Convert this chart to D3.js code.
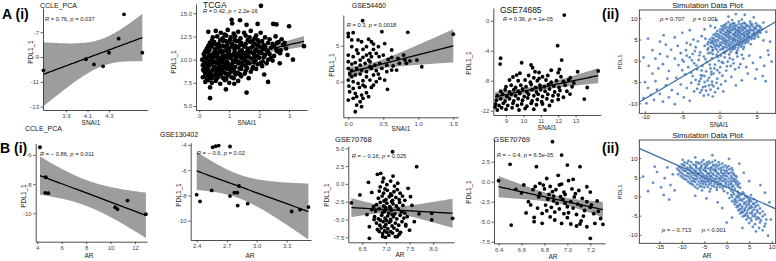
<!DOCTYPE html>
<html>
<head>
<meta charset="utf-8">
<script src="https://cdn.jsdelivr.net/npm/d3@7"></script>
<style>
  body { margin: 0; background: #fff; }
  svg text { font-family: "Liberation Sans", Arial, sans-serif; }
</style>
</head>
<body>
<svg id="fig" width="776" height="261"></svg>
<script>
// ---- data ----
// row A: PDL1_1 vs SNAI1
const ccleSnaiPts = [[3.69,-10.07],[4.085,-9.18],[4.16,-9.6],[4.245,-9.75],[4.30,-8.65],[4.39,-7.52],[4.44,-5.56],[4.61,-8.65]];
const ccleSnaiXTicks = [3.9, 4.1, 4.3];
const ccleSnaiYTicks = [-13, -11, -9, -7];

const tcgaPts = [
  [2.06,15.8],[1.08,14.3],[1.1,13.9],[1.36,14.25],[1.58,13.75],[1.95,13.85],[2.47,13.85],[2.58,13.8],[3.0,13.6],[0.3,13.0],
  [3.5,11.45],[3.13,10.0],[2.69,9.6],[2.17,8.4],[1.17,7.4],[0.36,7.0],[0.89,6.8],[1.58,6.45],[0.36,5.85],[0.13,8.9],
  [2.85,11.8],[2.6,11.8],[2.3,7.6],
  [0.55,13.1],[0.72,12.9],[0.95,13.2],[1.15,12.8],[1.3,13.0],[1.5,12.9],[1.72,13.1],[0.85,12.7],[2.05,12.9],[1.9,12.6],
  [0.45,12.4],[0.6,12.5],[0.78,12.3],[0.9,12.6],[1.05,12.4],[1.2,12.5],[1.38,12.3],[1.55,12.6],[1.68,12.4],[1.85,12.3],[2.2,12.4],[2.35,12.2],[2.55,12.5],[2.75,12.2],
  [0.35,11.8],[0.5,11.9],[0.65,11.7],[0.8,12.0],[0.95,11.8],[1.1,11.7],[1.25,12.0],[1.4,11.8],[1.55,11.7],[1.7,11.9],[1.85,11.7],[2.0,11.9],[2.15,11.6],[2.3,11.8],[2.45,11.7],[2.65,11.9],[2.8,11.6],[0.58,11.6],[1.02,12.1],
  [0.25,11.2],[0.4,11.4],[0.52,11.1],[0.62,11.3],[0.72,11.0],[0.85,11.4],[0.97,11.2],[1.08,11.4],[1.18,11.1],[1.3,11.3],[1.42,11.0],[1.52,11.4],[1.63,11.2],[1.75,11.3],[1.9,11.1],[2.02,11.4],[2.12,11.2],[2.25,11.0],[2.4,11.3],[2.58,11.1],[2.72,11.0],[2.9,11.2],
  [0.15,10.6],[0.28,10.8],[0.38,10.5],[0.48,10.7],[0.58,10.5],[0.68,10.8],[0.78,10.6],[0.88,10.4],[0.98,10.7],[1.08,10.5],[1.18,10.8],[1.28,10.6],[1.38,10.4],[1.48,10.7],[1.58,10.5],[1.7,10.8],[1.82,10.6],[1.95,10.4],[2.08,10.7],[2.2,10.5],[2.35,10.6],[2.5,10.4],[2.7,10.7],[2.95,10.5],
  [0.1,10.0],[0.22,10.2],[0.32,9.9],[0.42,10.1],[0.52,9.8],[0.62,10.2],[0.72,9.9],[0.82,10.1],[0.92,9.8],[1.02,10.2],[1.12,9.9],[1.22,10.1],[1.32,9.8],[1.42,10.2],[1.52,10.0],[1.62,9.8],[1.75,10.1],[1.88,9.9],[2.0,10.2],[2.12,9.8],[2.3,10.0],[2.45,9.9],
  [0.12,9.4],[0.22,9.6],[0.3,9.3],[0.4,9.5],[0.5,9.2],[0.58,9.6],[0.68,9.4],[0.78,9.2],[0.88,9.6],[0.98,9.3],[1.08,9.5],[1.2,9.2],[1.3,9.6],[1.42,9.4],[1.55,9.3],[1.68,9.6],[1.8,9.2],[1.95,9.5],[2.1,9.3],[2.25,9.6],
  [0.15,8.8],[0.25,9.0],[0.35,8.7],[0.45,8.9],[0.55,8.6],[0.65,9.0],[0.75,8.8],[0.85,8.6],[0.95,9.0],[1.05,8.7],[1.15,8.9],[1.28,8.6],[1.4,9.0],[1.55,8.8],[1.72,8.7],[1.9,9.0],
  [0.12,8.1],[0.22,8.4],[0.32,8.2],[0.42,8.0],[0.52,8.3],[0.62,8.1],[0.72,8.4],[0.82,8.0],[0.95,8.3],[1.08,8.1],[1.22,8.4],[1.4,8.2],[1.65,8.0],
  [0.2,7.6],[0.3,7.8],[0.42,7.5],[0.55,7.7],[0.7,7.4],[0.85,7.8],[1.0,7.5],[1.3,7.7],
  [0.6,10.45],[0.9,10.95],[1.25,10.35],[0.45,9.75],[0.85,9.55],[1.15,10.6],[0.7,11.5],[1.35,11.55],[0.3,10.35],[1.65,10.3],[1.0,9.05],[0.55,8.95],
  [0.42,12.05],[0.7,12.1],[0.88,12.0],[1.18,12.1],[1.32,12.0],[1.62,12.1],[1.78,12.0],[1.95,12.1],[2.1,12.0],
  [0.3,11.5],[0.45,11.6],[0.78,11.5],[0.92,11.55],[1.2,11.5],[1.48,11.5],[1.8,11.5],[1.95,11.55],[2.2,11.45],[2.5,11.5],
  [0.2,10.9],[0.34,11.0],[0.55,10.9],[0.78,10.9],[1.0,10.95],[1.35,10.85],[1.6,10.9],[1.85,10.9],[2.0,10.85],[2.3,10.8],[2.6,10.9],
  [0.18,10.3],[0.38,10.3],[0.5,10.3],[0.75,10.25],[0.95,10.3],[1.05,10.35],[1.38,10.25],[1.55,10.3],[1.85,10.3],[2.15,10.25],[2.4,10.2],
  [0.18,9.7],[0.28,9.8],[0.35,9.65],[0.55,9.7],[0.65,9.8],[0.78,9.7],[0.95,9.65],[1.15,9.7],[1.25,9.8],[1.45,9.7],[1.6,9.65],[1.82,9.7],[2.05,9.65],
  [0.18,9.1],[0.3,9.15],[0.48,9.05],[0.62,9.1],[0.82,9.05],[0.9,9.15],[1.12,9.1],[1.35,9.05],[1.6,9.1],[1.78,9.05],
  [0.2,8.5],[0.28,8.6],[0.4,8.45],[0.6,8.5],[0.68,8.6],[0.9,8.45],[1.0,8.5],[1.18,8.55],[1.35,8.45],[1.52,8.5],
  [0.25,7.95],[0.38,8.0],[0.58,7.95],[0.78,8.05],[0.9,7.9],[1.15,8.0]
];
const tcgaXTicks = [0, 1, 2, 3];
const tcgaYTicks = [5, 7.5, 10, 12.5, 15];

const gse54460Pts = [
  [0.205,8.47],[0.07,6.8],[0,6.7],[0,6.25],[0.05,5.8],[0.48,6.94],[0.85,6.85],[1.5,6.6],
  [0.14,5.8],[0.19,5.55],[0.29,5.9],[0.33,5.55],[0.36,5.23],[0.52,5.3],[0.62,4.4],
  [0.12,4.4],[0.21,4.5],[0.31,3.94],[0.36,4.5],[0,3.7],[0.07,3.47],[0.14,3.94],
  [0.21,3.38],[0.26,3.7],[0.33,3.47],[0.4,3.94],[0.44,3.47],[0.5,3.7],[0.57,3.1],[0.62,3.38],
  [0.71,3.24],[0.81,3.0],[0.88,2.9],[0.79,3.7],
  [0,2.78],[0.05,2.45],[0.1,2.64],[0.17,2.3],[0.24,2.55],[0.31,2.78],[0.38,2.3],[0.45,2.55],
  [0.55,2.3],[0.64,2.18],[0.73,2.55],[1.05,2.08],
  [0,1.85],[0.05,1.53],[0.12,1.85],[0.19,1.62],[0.26,1.39],[0.33,1.85],[0.4,1.53],[0.48,1.85],
  [0.55,1.39],[0.62,1.62],
  [0.02,1.06],[0.1,0.93],[0.17,1.06],[0.26,0.69],[0.36,0.93],[0.45,0.46],
  [0,0.23],[0.07,0],[0.14,-0.23],[0.21,0.14],[0.31,0.23],[0.4,0],[0.52,0.23],
  [0.01,-0.6],[0.07,-0.93],[0.16,-0.79],[0.24,-0.69],[0.33,-0.79],
  [0.02,-1.39],[0.1,-1.62],[0.19,-1.85],[0.26,-1.53],[0.56,-1.06],
  [0,-2.55],[0.07,-2.31],[0.17,-2.78],[0.21,-2.31],[0.12,-3.24],[0.19,-3.47],[0.1,-4.17],
  [0.05,4.86],[0.26,4.86],[0.43,4.86],[0.17,3.0],[0.31,2.08],[0.05,0.69],[0.21,-0.46],[0.36,-0.46],
  [0.12,-2.08],[0.29,-2.08],[0.69,1.62],[0.83,2.55],[0.43,1.06],[0.29,3.0],[0.98,3.0]
];
const gse54460XTicks = [0, 0.5, 1.0, 1.5];
const gse54460YTicks = [0, 5];

const gse74685Pts = [
  [9.7,-8.0],[10.1,-7.9],[10.4,-8.2],[10.8,-8.0],[11.3,-7.9],[11.6,-8.2],[11.9,-8.0],[12.3,-8.1],[12.6,-7.9],
  [9.0,-8.8],[9.3,-8.6],[9.55,-8.9],[9.85,-8.6],[10.15,-8.8],[10.45,-8.5],[10.7,-8.9],[10.95,-8.6],[11.2,-8.8],[11.45,-8.5],[11.75,-8.7],[12.05,-8.9],[12.4,-8.6],[12.8,-8.8],
  [8.7,-9.4],[8.95,-9.2],[9.2,-9.5],[9.45,-9.2],[9.7,-9.4],[9.95,-9.1],[10.2,-9.5],[10.5,-9.2],[10.75,-9.5],[11.0,-9.2],[11.25,-9.4],[11.5,-9.1],[11.8,-9.5],[12.1,-9.3],[12.5,-9.4],
  [8.5,-10.0],[8.8,-9.8],[9.05,-10.1],[9.3,-9.8],[9.55,-10.0],[9.8,-9.7],[10.05,-10.1],[10.3,-9.8],[10.6,-10.0],[10.85,-9.8],[11.1,-10.1],[11.4,-9.8],[11.7,-10.0],[12.0,-9.9],[12.3,-10.2],
  [8.45,-10.6],[8.7,-10.4],[8.95,-10.7],[9.2,-10.4],[9.45,-10.7],[9.7,-10.4],[9.95,-10.6],[10.25,-10.3],[10.5,-10.7],[10.8,-10.5],[11.05,-10.8],[11.35,-10.4],[11.65,-10.7],[12.0,-10.5],
  [8.4,-11.1],[8.6,-11.3],[8.85,-11.0],[9.1,-11.3],[9.4,-11.0],[9.65,-11.3],[9.9,-11.1],[10.2,-11.4],[10.45,-11.0],[10.75,-11.2],[11.1,-11.1],[11.5,-11.3],
  [8.37,-11.5],[8.5,-11.9],[8.75,-11.6],[9.0,-11.8],[9.35,-11.6],[9.75,-11.9],[10.1,-11.7],[10.6,-11.8],[11.24,-11.9],
  [9.4,-7.5],[10.3,-7.3],[10.9,-6.9],[11.4,-7.3],[12.7,-7.6],[9.2,-7.9],[10.6,-7.6],[11.6,-6.6],[12.9,-8.3],
  [12.35,0.76],[11.97,-3.33],[12.2,-5.24],[8.69,-5.0],[8.66,-5.78],[9.9,-5.6],[10.44,-5.9],[10.53,-6.27],[9.61,-7.24],[9.8,-7.0],
  [10.67,-6.8],[10.9,-7.7],[11.1,-7.47],[12.0,-6.93],[12.07,-6.49],[12.16,-7.47],[13.12,-6.8],[14.3,-6.7],[13.67,-8.9],[13.5,-10.44],[12.68,-9.78]
];
const gse74685XTicks = [9, 10, 11, 12, 13];
const gse74685YTicks = [-12, -8, -4, 0];

// row B: PDL1_1 vs AR
const ccleArPts = [[4.22,-5.47],[4.69,-7.53],[4.65,-8.6],[4.9,-8.62],[10.37,-9.58],[10.56,-9.72],[11.38,-9.13],[12.89,-10.06]];
const ccleArXTicks = [4, 6, 8, 10, 12];
const ccleArYTicks = [-10, -8, -6];

const gse130402Pts = [[2.4,-7.94],[2.433,-8.47],[2.55,-7.6],[2.733,-8.05],[2.776,-7.78],[2.806,-7.78],[2.823,-7.25],[2.81,-8.8],
  [2.91,-8.65],[3.35,-9.27],[3.433,-9.13],[3.517,-8.92],[2.56,-4.18],[2.59,-4.1],[2.62,-4.05],[2.733,-4.12]];
const gse130402XTicks = [2.4, 2.7, 3.0, 3.3];
const gse130402YTicks = [-10, -8, -6, -4];

const gse70768Pts = [
  [6.93,0.3],[7.02,-0.1],[7.1,0.4],[7.18,-0.3],[6.88,-0.4],[7.25,0.1],
  [6.86,-1.0],[6.95,-1.3],[7.03,-0.9],[7.1,-1.4],[7.17,-1.1],[7.24,-0.8],[7.3,-1.3],[6.98,-0.7],
  [6.84,-2.0],[6.92,-1.7],[7.0,-2.2],[7.07,-1.8],[7.14,-2.3],[7.21,-1.9],[7.28,-2.2],[7.35,-1.7],[6.96,-2.4],[7.12,-1.6],
  [6.8,-2.9],[6.88,-2.6],[6.95,-3.1],[7.02,-2.7],[7.08,-3.2],[7.15,-2.8],[7.22,-3.1],[7.29,-2.6],[7.36,-3.0],[6.99,-3.3],[7.12,-2.5],[6.74,-3.2],
  [6.78,-3.8],[6.86,-3.5],[6.93,-4.0],[7.0,-3.6],[7.06,-4.1],[7.12,-3.7],[7.19,-4.2],[7.26,-3.5],[7.33,-3.9],[7.4,-4.1],[6.97,-3.9],[7.09,-3.4],[6.7,-3.6],
  [6.76,-4.6],[6.84,-4.9],[6.91,-4.4],[6.98,-4.8],[7.04,-4.5],[7.1,-5.0],[7.16,-4.6],[7.23,-4.9],[7.3,-4.4],[7.38,-4.8],[7.01,-5.1],[7.13,-4.3],[6.88,-5.1],[7.45,-4.6],
  [6.8,-5.5],[6.87,-5.8],[6.94,-5.3],[7.0,-5.7],[7.07,-5.4],[7.13,-5.9],[7.2,-5.5],[7.27,-5.8],[7.34,-5.3],[6.97,-6.0],[7.1,-5.2],[7.42,-5.7],
  [6.82,-6.4],[6.9,-6.2],[6.97,-6.6],[7.04,-6.3],[7.1,-6.7],[7.17,-6.2],[7.24,-6.5],[7.31,-6.8],[6.86,-6.7],[7.02,-6.8],
  [6.93,-7.0],[7.06,-7.2],[7.14,-6.9],[7.2,-7.4],[7.28,-7.1],[6.99,-7.5],
  [6.7,-1.2],[6.75,-5.0],[7.55,-3.0],[7.6,-5.3],[7.5,-6.5],[6.65,-6.0],[7.4,-2.3],[6.6,-4.3],[7.7,-4.2],[6.95,0.8],[7.15,1.1],
  [7.14,4.53],[7.65,2.42],[6.82,1.35],[6.89,1.49],[6.63,0.22],[6.45,-1.55],[6.27,-2.65],[6.65,-7.64],[8.41,-4.83],[7.97,-4.13],
  [7.97,-5.07],[7.47,-0.62],[7.52,-1.79],[7.42,-5.9],[6.93,-7.4],[7.24,-7.4]
];
const gse70768XTicks = [6.5, 7.0, 7.5, 8.0];
const gse70768YTicks = [-7.5, -5, -2.5, 0, 2.5, 5];

const gse70769Pts = [
  [6.87,5.0],[6.95,3.33],[6.5,2.17],[6.73,1.88],[7.0,2.08],[7.11,1.88],[6.4,0.13],[6.55,-0.96],[6.76,-0.2],[6.79,-0.42],
  [7.01,0.13],[7.17,-0.63],[6.76,-1.46],[6.84,-1.58],[6.87,-1.25],[6.66,-2.5],[6.94,-1.88],[6.81,-2.92],[6.91,-2.71],[7.0,-3.13],
  [7.13,-2.08],[7.17,-2.5],[6.78,-3.96],[6.82,-3.63],[7.01,-3.88],[6.71,-4.46],[6.71,-5.0],[6.89,-4.79],[6.95,-5.21],[7.03,-5.29],
  [7.08,-5.54],[7.11,-5.29],[7.17,-5.63],[6.51,-5.42],[7.24,-5.21],[7.31,-5.33],[7.2,-7.08],
  [6.62,-0.4],[6.7,-1.0],[6.8,-0.9],[6.85,-0.6],[6.9,-1.0],[6.93,-0.4],[6.97,-1.3],[7.04,-0.9],[7.07,-1.5],[7.1,-1.1],
  [6.75,-1.9],[6.83,-2.2],[6.88,-2.4],[6.96,-2.2],[7.03,-2.5],[7.06,-1.9],[7.09,-2.8],[6.86,-3.2],[6.93,-3.4],[6.98,-2.7],
  [7.05,-3.3],[7.12,-3.0],[7.15,-3.6],[6.74,-3.3],[6.89,-3.8],[6.97,-4.0],[7.08,-4.1],[7.2,-3.2],[7.23,-4.0],[7.27,-3.7],
  [7.21,-2.9],[6.6,-1.4],[6.68,-2.9],[6.85,-4.4],[7.0,-4.5],[7.14,-4.3],[6.92,0.8],[7.05,0.3],[6.82,0.4],[7.2,-1.3],
  [6.95,-0.3],[6.88,-1.8],[7.26,-2.4],[6.98,-1.6],[6.72,-0.6],[7.29,-4.6],[6.64,-3.9],[7.12,-4.9],[6.78,-5.2]
];
const gse70769XTicks = [6.4, 6.6, 6.8, 7.0, 7.2];
const gse70769YTicks = [-7.5, -5, -2.5, 0, 2.5];

// (ii) simulation panels
const simSnaiPts = [
  [1.2,9.1],[2.0,8.8],[2.6,9.3],[3.3,8.9],[4.1,9.2],[1.7,9.6],[3.0,9.7],
  [0.6,8.4],[1.5,8.6],[2.3,8.3],[3.0,8.7],[3.7,8.4],[4.4,8.6],[5.2,8.3],
  [0.3,8.1],[1.0,7.9],[1.8,8.2],[2.5,7.8],[3.2,8.0],[3.9,8.1],[4.6,7.9],[5.4,8.1],
  [0.1,7.4],[0.8,7.6],[1.4,7.3],[2.1,7.6],[2.8,7.4],[3.5,7.6],[4.2,7.3],[4.9,7.5],[5.7,7.4],
  [-0.3,7.0],[0.5,7.1],[1.1,6.9],[1.7,7.2],[2.4,6.9],[3.0,7.1],[3.7,6.8],[4.4,7.1],[5.1,6.9],
  [-0.5,6.4],[0.2,6.6],[0.9,6.3],[1.5,6.6],[2.2,6.4],[2.8,6.6],[3.4,6.3],[4.0,6.5],[4.7,6.4],[5.5,6.6],
  [-0.8,6.1],[0.0,5.9],[0.7,6.1],[1.3,5.8],[1.9,6.1],[2.6,5.9],[3.2,6.1],[3.9,5.8],[4.6,6.0],
  [-1.0,5.4],[-0.2,5.6],[0.5,5.3],[1.1,5.6],[1.8,5.4],[2.4,5.6],[3.0,5.3],[3.7,5.5],[4.4,5.4],[5.2,5.6],
  [-1.3,5.0],[-0.5,4.9],[0.3,5.1],[0.9,4.8],[1.6,5.1],[2.2,4.9],[2.9,5.0],[3.6,4.8],[4.3,5.1],
  [-1.5,4.4],[-0.7,4.6],[0.1,4.3],[0.8,4.6],[1.4,4.4],[2.1,4.6],[2.8,4.3],[3.5,4.5],
  [-1.6,3.9],[-0.9,4.1],[0.0,3.8],[0.7,4.1],[1.3,3.9],[2.0,4.0],[2.7,3.8],[3.4,4.1],[4.2,3.9],
  [-1.2,3.4],[-0.3,3.6],[0.5,3.3],[1.2,3.6],[1.9,3.4],[2.6,3.6],[3.3,3.3],
  [-1.5,2.9],[-0.6,3.1],[0.3,2.8],[1.0,3.1],[1.8,2.9],[2.5,3.0],[3.2,2.8],
  [-0.9,2.4],[0.1,2.6],[0.9,2.3],[1.7,2.6],[2.4,2.4],
  [-1.2,1.9],[-0.2,2.1],[0.7,1.8],[1.5,2.1],[2.3,1.9],
  [2.2,7.2],[2.9,6.2],[3.6,7.0],[1.9,5.0],[2.5,6.8],[3.3,5.7],[2.7,4.6],[1.2,6.7],[3.1,7.8],[2.0,6.0],[3.8,6.2],[1.6,7.8],
  [0.9,8.7],[1.8,8.8],[2.6,8.7],[3.4,8.8],[4.2,8.7],[4.9,8.8],
  [0.7,8.2],[1.4,8.3],[2.1,8.2],[2.9,8.3],[3.6,8.2],[4.3,8.3],[5.0,8.2],
  [0.5,7.7],[1.3,7.8],[2.0,7.7],[2.7,7.8],[3.4,7.7],[4.1,7.8],[4.8,7.7],[5.5,7.8],
  [0.4,7.3],[1.1,7.2],[1.8,7.3],[2.5,7.2],[3.2,7.3],[3.9,7.2],[4.6,7.3],[5.3,7.2],
  [0.1,6.8],[0.8,6.7],[1.4,6.8],[2.1,6.7],[2.7,6.8],[3.3,6.7],[4.0,6.8],[4.7,6.7],[5.4,6.8],
  [-0.2,6.2],[0.5,6.3],[1.2,6.2],[1.8,6.3],[2.5,6.2],[3.1,6.3],[3.7,6.2],[4.4,6.3],[5.1,6.2],
  [-0.5,5.8],[0.3,5.7],[0.9,5.8],[1.5,5.7],[2.2,5.8],[2.8,5.7],[3.4,5.8],[4.1,5.7],[4.8,5.8],
  [-0.8,5.2],[0.0,5.3],[0.7,5.2],[1.3,5.3],[2.0,5.2],[2.6,5.3],[3.3,5.2],[4.0,5.3],[4.7,5.2],
  [-1.0,4.7],[-0.2,4.8],[0.5,4.7],[1.2,4.8],[1.8,4.7],[2.5,4.8],[3.2,4.7],[3.9,4.8],
  [-1.2,4.2],[-0.4,4.3],[0.4,4.2],[1.0,4.3],[1.7,4.2],[2.4,4.3],[3.1,4.2],[3.8,4.3],
  [-0.7,3.8],[0.2,3.7],[0.9,3.8],[1.6,3.7],[2.3,3.8],[3.0,3.7],
  [-1.0,3.2],[-0.1,3.3],[0.7,3.2],[1.4,3.3],[2.1,3.2],[2.9,3.3],
  [-0.4,2.7],[0.5,2.8],[1.3,2.7],[2.0,2.8],
  [-6,0.5],[-5.5,-1],[-5.2,1.8],[-4.8,-0.2],[-4.5,2.5],[-4.2,-1.5],[-4,0.8],[-3.8,-2.8],[-3.6,1.6],[-3.4,-0.6],
  [-3.2,3.2],[-3,-2],[-2.8,0.2],[-2.6,2],[-2.5,-3.4],[-2.3,-1.2],[-2.1,1],[-2,3.5],[-1.8,-2.5],[-1.7,-0.3],
  [-1.5,1.8],[-1.4,-4],[-1.2,-1.8],[-1,0.6],[-0.9,2.6],[-0.8,-3],[-0.6,-0.9],[-0.4,1.4],[-0.3,-2.2],[-0.1,0],
  [0.1,-1.5],[0.2,1.2],[0.4,-3.5],[0.5,-0.5],[0.7,0.8],[0.9,-2.3],[1.1,-0.2],[1.3,1.5],[1.5,-1.2],[1.8,0.3],
  [2.1,-2],[2.4,1],[2.8,-0.8],[3.2,0.5],[3.6,-1.5],[4,1.2],[-4.6,-3.2],[-5,-2.2],[-3.9,3.8],[-2.9,4.6],
  [-1.9,5.2],[-1,4.4],[-0.5,3.6],[-2.4,5.8],[-3.5,5],[-4.4,4.2],[-5.6,3.5],[-6.5,2.6],[-7,1],[-7.6,-0.8],
  [-6.8,-2.4],[-8.2,-1.8],[-9,-3],[-9.5,-1.2],[-8.6,0.5],[-7.2,3.8],[-6,5.5],[-8,4.5],
  [-3.7,0.1],[-3.1,-1.1],[-2.7,1.3],[-2.4,-2.3],[-1.9,0.4],[-1.6,2.6],[-1.3,-0.9],[-0.9,1.6],[-0.7,-1.8],[-0.2,0.9],
  [0.3,-0.3],[0.6,2.0],[1.0,-1.3],[1.4,0.6],[1.9,-0.6],[2.3,1.8],[2.6,-1.6],[3.0,1.4],[-4.4,1.2],[-5.0,0.2],
  [-3.3,2.3],[-2.0,-3.6],[-1.1,-2.6],[0.0,-2.8],[-2.7,-4.8],[-1.9,-6.0],[-1.0,-5.6],[-2.4,-6.9],[-0.3,-4.2],[-3.6,-3.6],
  [-3.2,-4.5],[-2.8,-5.5],[-2.5,-4.2],[-2.2,-6.2],[-2,-5],[-1.8,-7],[-1.6,-4.6],[-1.4,-5.8],[-1.2,-6.8],[-1,-4.9],
  [-0.8,-6],[-0.6,-7.4],[-0.4,-5.2],[-3,-6.6],[-2.6,-7.5],[-2.1,-8.2],[-1.5,-8],[-3.4,-7.2],[-0.9,-8.4],[-0.2,-6.5],
  [0.2,-5.6],[0.5,-7.2],[0.8,-4.8],[-2.3,-3.5],[-1.1,-3.2],
  [-10,-5],[-9.6,-6.4],[-9.2,-8],[-8.8,-9.2],[-8.4,-6.8],[-8,-7.8],[-7.6,-9.6],[-7.2,-5.8],[-6.8,-8.6],[-6.4,-6.9],
  [-6,-10.2],[-5.6,-7.8],[-5.2,-5.6],[-4.8,-8.6],[-4.4,-6.4],[-4,-9.4],[-3.8,-5.2],[-5.8,-4],[-7,-4.2],[-8.6,-4.8],
  [-10.2,-8.8],[-9.8,-10],
  [4.5,-0.5],[5,-2],[5.5,0.8],[6,-1.2],[6.5,2.4],[7,-0.2],[5.8,-3.6],[4.8,-4.2],[6.2,-4.8],[3.8,-3],
  [3,-4.6],[2.2,-5.8],[1.6,-3.8],[6.8,4.5],[6.3,6.8],[5.9,9],[4.6,10.2],[3.4,10.8],[2.2,11],[1.2,10.4],
  [-0.4,9.6],[-1.2,8.2],[-2,7.4],[-0.6,7.8],[5.9,4.8],[6.6,1.4],
  [-9,2.5],[-8,1.6],[-5,6.6],[-4,7.2],[-7.5,6],[-10.2,0.8],[-9.6,5.2]
];
const simSnaiFit = [1.03, 1.4]; // slope, intercept
const simSnaiXTicks = [-10, -5, 0, 5];
const simSnaiYTicks = [-10, -5, 0, 5, 10];

const simArPts = [
  [-18.6,5.2],[-16.4,3.6],[-15.5,6.4],[-14.6,2.4],[-13.8,4.8],[-13.2,7.6],[-12.5,3.0],[-12.0,5.8],[-11.6,1.6],[-14.0,0.4],[-16.0,7.8],[-12.8,-0.8],[-17.5,1.4],
  [-8.5,9.3],[-6.8,9.0],[-5.2,9.5],[-4.0,9.1],[-2.6,9.4],
  [-10.0,8.4],[-8.8,8.7],[-7.4,8.3],[-6.1,8.6],[-5.0,8.4],[-3.8,8.7],[-2.4,8.3],[-1.0,8.6],
  [-10.6,7.7],[-9.4,8.0],[-8.1,7.6],[-6.8,7.9],[-5.7,7.7],[-4.6,8.0],[-3.4,7.6],[-2.1,7.9],[-0.8,7.7],[0.4,7.9],
  [-11.0,7.2],[-9.8,6.9],[-8.6,7.3],[-7.4,7.0],[-6.3,7.2],[-5.2,6.9],[-4.1,7.3],[-3.0,7.0],[-1.8,7.2],[-0.6,6.9],[0.6,7.1],
  [-10.3,6.3],[-9.1,6.6],[-7.9,6.2],[-6.8,6.5],[-5.8,6.3],[-4.7,6.6],[-3.6,6.2],[-2.5,6.5],[-1.3,6.3],[-0.2,6.6],[1.0,6.2],
  [-10.8,5.8],[-9.5,5.5],[-8.3,5.9],[-7.2,5.6],[-6.2,5.8],[-5.1,5.5],[-4.0,5.9],[-2.9,5.6],[-1.8,5.8],[-0.7,5.5],[0.5,5.9],[1.6,5.6],
  [-9.8,4.9],[-8.6,5.2],[-7.5,4.8],[-6.5,5.1],[-5.4,4.9],[-4.3,5.2],[-3.2,4.8],[-2.1,5.1],[-1.0,4.9],[0.1,5.2],[1.2,4.8],[2.2,5.1],
  [-9.0,4.4],[-7.8,4.1],[-6.7,4.5],[-5.6,4.2],[-4.5,4.4],[-3.4,4.1],[-2.3,4.5],[-1.2,4.2],[-0.1,4.4],[1.0,4.1],[2.0,4.4],
  [-8.2,3.5],[-7.0,3.8],[-5.8,3.4],[-4.7,3.7],[-3.5,3.5],[-2.4,3.8],[-1.3,3.4],[-0.2,3.7],[0.9,3.5],[1.9,3.8],[2.8,3.4],
  [-7.5,3.0],[-6.0,2.7],[-4.6,3.1],[-3.3,2.8],[-2.0,3.0],[-0.8,2.7],[0.4,3.1],[1.5,2.8],[2.5,3.0],
  [-6.5,2.1],[-5.0,2.4],[-3.6,2.0],[-2.2,2.3],[-0.9,2.1],[0.5,2.4],[1.8,2.0],[3.0,2.3],
  [-5.5,1.6],[-3.8,1.3],[-2.2,1.7],[-0.6,1.4],[1.0,1.6],[2.4,1.3],
  [-6.2,6.0],[-4.9,7.4],[-3.7,5.3],[-2.6,6.9],[-1.5,4.6],[-5.5,3.9],[-0.4,6.1],[-3.0,8.2],[-4.2,4.0],[-1.9,3.2],
  [-9.4,8.9],[-7.9,9.0],[-6.4,8.8],[-5.6,9.0],[-4.5,8.8],[-3.2,9.0],[-1.8,8.9],
  [-9.6,8.2],[-8.2,8.1],[-6.9,8.2],[-5.6,8.1],[-4.3,8.2],[-2.9,8.1],[-1.6,8.2],[-0.3,8.1],
  [-10.1,7.4],[-8.9,7.5],[-7.8,7.4],[-6.8,7.5],[-5.8,7.4],[-4.7,7.5],[-3.6,7.4],[-2.5,7.5],[-1.3,7.4],[0.0,7.5],[1.1,7.4],
  [-10.6,6.8],[-9.4,6.7],[-8.2,6.8],[-7.0,6.7],[-5.9,6.8],[-4.7,6.7],[-3.6,6.8],[-2.4,6.7],[-1.2,6.8],[0.0,6.7],[1.3,6.8],
  [-9.9,6.0],[-8.7,6.1],[-7.5,6.0],[-6.5,6.1],[-5.4,6.0],[-4.3,6.1],[-3.1,6.0],[-2.0,6.1],[-0.9,6.0],[0.3,6.1],[1.5,6.0],
  [-10.2,5.3],[-9.0,5.4],[-7.9,5.3],[-6.8,5.4],[-5.7,5.3],[-4.6,5.4],[-3.5,5.3],[-2.4,5.4],[-1.3,5.3],[-0.2,5.4],[1.0,5.3],[2.0,5.4],
  [-9.4,4.6],[-8.2,4.7],[-7.1,4.6],[-6.0,4.7],[-4.9,4.6],[-3.8,4.7],[-2.7,4.6],[-1.6,4.7],[-0.5,4.6],[0.6,4.7],[1.6,4.6],
  [-8.6,3.9],[-7.4,4.0],[-6.2,3.9],[-5.1,4.0],[-4.0,3.9],[-2.9,4.0],[-1.8,3.9],[-0.7,4.0],[0.4,3.9],[1.5,4.0],[2.4,3.9],
  [-7.8,3.3],[-6.5,3.2],[-5.2,3.3],[-3.9,3.2],[-2.7,3.3],[-1.4,3.2],[-0.2,3.3],[1.0,3.2],[2.1,3.3],
  [-7.0,2.5],[-5.6,2.6],[-4.2,2.5],[-2.8,2.6],[-1.5,2.5],[-0.2,2.6],[1.2,2.5],[2.5,2.6],
  [0.2,0.9],[1.4,1.1],[2.6,0.8],[3.6,1.1],
  [1.0,0.4],[2.2,0.1],[3.2,0.5],[4.2,0.2],[5.4,0.4],
  [0.6,-0.4],[1.8,-0.7],[2.8,-0.3],[3.8,-0.6],[4.8,-0.4],[6.0,-0.7],
  [1.2,-1.2],[2.3,-1.5],[3.4,-1.1],[4.4,-1.4],[5.4,-1.2],[6.6,-1.5],
  [1.8,-2.0],[2.9,-2.3],[3.9,-1.9],[4.9,-2.2],[5.9,-2.0],[7.0,-2.3],
  [2.2,-2.8],[3.3,-3.1],[4.3,-2.7],[5.3,-3.0],[6.3,-2.8],[7.4,-3.1],
  [2.6,-3.6],[3.7,-3.9],[4.7,-3.5],[5.7,-3.8],[6.8,-3.6],[8.0,-3.9],
  [3.0,-4.4],[4.2,-4.7],[5.2,-4.3],[6.3,-4.6],[7.4,-4.4],[8.5,-4.7],
  [3.6,-5.2],[4.8,-5.5],[5.8,-5.1],[6.9,-5.4],[8.0,-5.2],
  [4.4,-6.0],[5.5,-6.3],[6.6,-5.9],[7.6,-6.2],[8.8,-6.0],
  [5.0,-6.9],[6.3,-7.2],[7.4,-6.8],[8.6,-7.1],
  [5.8,-7.9],[7.2,-8.2],[8.4,-7.8],[6.5,-9.1],[8.0,-8.8],
  [2.0,-1.0],[3.0,-2.0],[4.0,-3.2],[5.0,-1.6],[3.5,-4.2],[4.6,-5.0],[2.5,-2.6],[5.6,-2.8],
  [1.6,0.6],[2.7,0.3],[3.8,0.7],[1.2,-0.1],[2.3,-0.2],[3.3,-0.8],[4.3,-0.1],[5.2,-0.8],[1.7,-1.4],[2.8,-1.0],
  [3.9,-1.6],[4.9,-1.0],[6.0,-1.8],[2.4,-2.4],[3.5,-2.6],[4.4,-2.1],[5.4,-2.5],[6.5,-2.4],[2.9,-3.3],[4.0,-3.6],
  [5.0,-3.0],[6.1,-3.4],[3.3,-4.0],[4.5,-4.2],[5.6,-4.4],[6.8,-4.1],[4.0,-5.0],[5.3,-5.7],[6.3,-5.2],[7.2,-5.7],
  [-2.0,-1.5],[-4.5,-0.5],[-7.0,0.2],[-1.0,-3.0],[9.5,-1.5],[9.8,-6.0],[8.5,1.0],[7.5,3.0],[5.0,4.0],[3.8,6.2],
  [2.8,8.6],[0.5,9.8],[-3.2,10.8],[-7.0,10.2],[-9.8,9.6],[9.2,-10.2],[3.5,-8.2],[1.2,-5.5],[0.0,-6.8]
];
const simArFit = [-0.52, 2.47];
const simArXTicks = [-15, -10, -5, 0, 5, 10];
const simArYTicks = [-10, -5, 0, 5, 10];

// ---- drawing ----
const svg = d3.select("#fig");
const hyph = s => String(s).replace("\u2212", "-");

function tCrit(df) {
  const z = 1.959964;
  return z + (z**3 + z) / (4 * df) + (5 * z**5 + 16 * z**3 + 3 * z) / (96 * df * df)
    + (3 * z**7 + 19 * z**5 + 17 * z**3 - 15 * z) / (384 * df**3);
}

function styleAxis(ax, col) {
  ax.attr("font-family", null);
  ax.select(".domain").attr("stroke", "#222").attr("stroke-width", 0.8);
  ax.selectAll(".tick line").attr("stroke", "#222").attr("stroke-width", 0.7);
  ax.selectAll(".tick text").attr("font-size", 6).attr("fill", col);
}

function yLabel(txt, cx, cy, size) {
  svg.append("text").attr("transform", `translate(${cx + size * 0.35},${cy}) rotate(-90)`)
    .attr("text-anchor", "middle").attr("font-size", size).attr("fill", "#222").text(txt);
}

function statLine(x0, y0, parts, size) {
  const t = svg.append("text").attr("x", x0).attr("y", y0).attr("font-size", size).attr("fill", "#222");
  parts.forEach(p => t.append("tspan").attr("font-style", p[1] ? "italic" : null).text(p[0]));
}

function rPanel(c) {
  const x = d3.scaleLinear().domain(c.xd).range(c.xr);
  const y = d3.scaleLinear().domain(c.yd).range(c.yr);
  const pts = c.pts, n = pts.length;
  const mx = d3.mean(pts, d => d[0]), my = d3.mean(pts, d => d[1]);
  const sxx = d3.sum(pts, d => (d[0] - mx) ** 2);
  const b = d3.sum(pts, d => (d[0] - mx) * (d[1] - my)) / sxx, a = my - b * mx;
  const s = Math.sqrt(d3.sum(pts, d => (d[1] - a - b * d[0]) ** 2) / (n - 2));
  const tc = tCrit(n - 2);
  const ext = d3.extent(pts, d => d[0]);
  const fit = d3.range(81).map(i => {
    const v = ext[0] + (ext[1] - ext[0]) * i / 80;
    const se = s * Math.sqrt(1 / n + (v - mx) ** 2 / sxx), f = a + b * v;
    return { v, f, lo: f - tc * se, hi: f + tc * se };
  });
  const cid = "clip-" + c.id;
  svg.append("clipPath").attr("id", cid).append("rect")
    .attr("x", c.xr[0]).attr("y", c.yr[1]).attr("width", c.xr[1] - c.xr[0]).attr("height", c.yr[0] - c.yr[1]);
  const g = svg.append("g");
  g.append("path").datum(fit).attr("clip-path", `url(#${cid})`).attr("fill", "#9d9d9d")
    .attr("d", d3.area().x(d => x(d.v)).y0(d => y(d.lo)).y1(d => y(d.hi)));
  g.append("g").selectAll("circle").data(pts).join("circle")
    .attr("cx", d => x(d[0])).attr("cy", d => y(d[1])).attr("r", c.r0 || 1.9).attr("fill", "#000");
  g.append("path").datum(fit).attr("clip-path", `url(#${cid})`).attr("fill", "none")
    .attr("stroke", "#000").attr("stroke-width", 1.3)
    .attr("d", d3.line().x(d => x(d.v)).y(d => y(d.f)));
  const xf = c.xf ? d3.format(c.xf) : String, yf = c.yf ? d3.format(c.yf) : String;
  const xa = g.append("g").attr("transform", `translate(0,${c.yr[0]})`)
    .call(d3.axisBottom(x).tickValues(c.xt).tickFormat(d => hyph(xf(d))).tickSize(2.5).tickSizeOuter(0).tickPadding(1.5));
  const ya = g.append("g").attr("transform", `translate(${c.xr[0]},0)`)
    .call(d3.axisLeft(y).tickValues(c.yt).tickFormat(d => hyph(yf(d))).tickSize(2.5).tickSizeOuter(0).tickPadding(1.5));
  styleAxis(xa, "#4a4a4a"); styleAxis(ya, "#4a4a4a");
  svg.append("text").attr("x", c.title[1]).attr("y", c.title[2]).attr("font-size", c.title[3]).attr("fill", "#111").text(c.title[0]);
  const neg = c.r.startsWith("-");
  statLine(c.stat[0], c.stat[1], [["R", true], [" = " + (neg ? "\u2212 " + c.r.slice(1) : c.r) + ", ", false], ["p", true], [" " + c.p, false]], 5.8);
  svg.append("text").attr("x", c.xl[1]).attr("y", c.xl[2]).attr("text-anchor", "middle").attr("font-size", 6.5).attr("fill", "#222").text(c.xl[0]);
  yLabel(c.yl[0], c.yl[1], c.yl[2], 6.5);
}

function simPanel(c) {
  const x = d3.scaleLinear().domain(c.xd).range(c.xr);
  const y = d3.scaleLinear().domain(c.yd).range(c.yr);
  const cid = "clip-" + c.id;
  svg.append("clipPath").attr("id", cid).append("rect")
    .attr("x", c.xr[0]).attr("y", c.yr[1]).attr("width", c.xr[1] - c.xr[0]).attr("height", c.yr[0] - c.yr[1]);
  const g = svg.append("g");
  g.append("g").attr("clip-path", `url(#${cid})`).selectAll("circle").data(c.pts).join("circle")
    .attr("cx", d => x(d[0])).attr("cy", d => y(d[1])).attr("r", 1.35)
    .attr("fill", "#1f58a4").attr("fill-opacity", 0.72)
    .attr("stroke", "#b3d1ef").attr("stroke-width", 0.25);
  const line = c.xd.map(v => [v, c.fit[1] + c.fit[0] * v]);
  g.append("path").datum(line).attr("clip-path", `url(#${cid})`).attr("fill", "none")
    .attr("stroke", "#3c6ea6").attr("stroke-width", 1.3)
    .attr("d", d3.line().x(d => x(d[0])).y(d => y(d[1])));
  g.append("rect").attr("x", c.xr[0]).attr("y", c.yr[1]).attr("width", c.xr[1] - c.xr[0]).attr("height", c.yr[0] - c.yr[1])
    .attr("fill", "none").attr("stroke", "#222").attr("stroke-width", 0.8);
  const xa = g.append("g").attr("transform", `translate(0,${c.yr[0]})`)
    .call(d3.axisBottom(x).tickValues(c.xt).tickFormat(d => hyph(d)).tickSize(-2).tickSizeOuter(0).tickPadding(1.8));
  const ya = g.append("g").attr("transform", `translate(${c.xr[0]},0)`)
    .call(d3.axisLeft(y).tickValues(c.yt).tickFormat(d => hyph(d)).tickSize(-2).tickSizeOuter(0).tickPadding(1.8));
  styleAxis(xa, "#222"); styleAxis(ya, "#222");
  xa.select(".domain").remove(); ya.select(".domain").remove();
  svg.append("text").attr("x", (c.xr[0] + c.xr[1]) / 2).attr("y", c.yr[1] - 2.5).attr("text-anchor", "middle")
    .attr("font-size", 7.8).attr("fill", "#111").text("Simulation Data Plot");
  statLine(c.stat[0], c.stat[2], [["\u03c1", true], [" = " + c.rho, false]], 5.8);
  statLine(c.stat[1], c.stat[2], [["p", true], [" " + c.p, false]], 5.8);
  svg.append("text").attr("x", c.xl[1]).attr("y", c.xl[2]).attr("text-anchor", "middle").attr("font-size", 6.5).attr("fill", "#222").text(c.xl[0]);
  yLabel(c.yl[0], c.yl[1], c.yl[2], 6);
}

rPanel({ id: "a1", pts: ccleSnaiPts, xd: [3.686, 4.66], xr: [43, 147.7], yd: [-13.27, -5.05], yr: [110, 8],
  xt: ccleSnaiXTicks, yt: ccleSnaiYTicks, title: ["CCLE_PCA", 40, 7.5, 7], r: "0.76", p: "= 0.037", stat: [45, 21],
  xl: ["SNAI1", 91, 125], yl: ["PDL1_1", 31, 52] });
rPanel({ id: "a2", pts: tcgaPts, r0: 2.35, xd: [-0.11, 3.6], xr: [196, 307], yd: [4.57, 16.0], yr: [110, 4],
  xt: tcgaXTicks, yt: tcgaYTicks, yf: ".1f", title: ["TCGA", 203, 7.5, 8.5], r: "0.42", p: "< 2.2e-16", stat: [203, 13],
  xl: ["SNAI1", 247, 125], yl: ["PDL1_1", 174, 62] });
rPanel({ id: "a3", pts: gse54460Pts, xd: [-0.071, 1.57], xr: [343.3, 458.2], yd: [-4.94, 9.26], yr: [117.3, 15],
  xt: gse54460XTicks, yt: gse54460YTicks, xf: ".1f", title: ["GSE54460", 351.7, 7.5, 7], r: "0.3", p: "= 0.0018", stat: [346.7, 27],
  xl: ["SNAI1", 401, 131], yl: ["PDL1_1", 332, 65] });
rPanel({ id: "a4", pts: gse74685Pts, xd: [8.27, 14.45], xr: [493.3, 600.8], yd: [-12.57, 1.7], yr: [115, 8],
  xt: gse74685XTicks, yt: gse74685YTicks, title: ["GSE74685", 500, 13, 8.5], r: "0.36", p: "= 1e-05", stat: [503, 21],
  xl: ["SNAI1", 547, 130], yl: ["PDL1_1", 469, 63] });
rPanel({ id: "b1", pts: ccleArPts, xd: [3.87, 12.98], xr: [35.7, 147], yd: [-11.95, -5.2], yr: [241.7, 143.3],
  xt: ccleArXTicks, yt: ccleArYTicks, title: ["CCLE_PCA", 25, 130.5, 7], r: "-0.86", p: "= 0.011", stat: [40, 156],
  xl: ["AR", 89, 258], yl: ["PDL1_1", 24, 196] });
rPanel({ id: "b2", pts: gse130402Pts, xd: [2.34, 3.543], xr: [190.7, 311], yd: [-11.53, -3.82], yr: [240, 142.7],
  xt: gse130402XTicks, yt: gse130402YTicks, xf: ".1f", title: ["GSE130402", 160, 136.5, 7], r: "-0.6", p: "= 0.02", stat: [196.7, 154.7],
  xl: ["AR", 250, 257.5], yl: ["PDL1_1", 179, 195] });
rPanel({ id: "b3", pts: gse70768Pts, xd: [6.204, 8.44], xr: [348.3, 454], yd: [-8.2, 5.3], yr: [242.3, 146.2],
  xt: gse70768XTicks, yt: gse70768YTicks, xf: ".1f", yf: ".1f", title: ["GSE70768", 335, 142, 7.5], r: "-0.16", p: "= 0.025", stat: [351.7, 158],
  xl: ["AR", 400, 257], yl: ["PDL1_1", 327, 195] });
rPanel({ id: "b4", pts: gse70769Pts, xd: [6.36, 7.33], xr: [494, 605.2], yd: [-7.7, 5.34], yr: [243.3, 139],
  xt: gse70769XTicks, yt: gse70769YTicks, xf: ".1f", yf: ".1f", title: ["GSE70769", 493.3, 142, 7.5], r: "-0.4", p: "= 6.5e-05", stat: [496.7, 157],
  xl: ["AR", 553, 258.5], yl: ["PDL1_1", 469, 192] });

simPanel({ id: "a5", pts: simSnaiPts, fit: simSnaiFit, xd: [-10.77, 7.55], xr: [639.3, 775.7], yd: [-12.35, 11.95], yr: [113.3, 10],
  xt: simSnaiXTicks, yt: simSnaiYTicks, rho: "0.707", p: "= 0.001", stat: [660, 693, 20.5],
  xl: ["SNAI1", 719, 126.5], yl: ["PDL1", 620, 62] });
simPanel({ id: "b5", pts: simArPts, fit: simArFit, xd: [-19.45, 10.9], xr: [639.3, 775.7], yd: [-12.2, 14.75], yr: [243.3, 140],
  xt: simArXTicks, yt: simArYTicks, rho: "\u2212 0.713", p: "< 0.001", stat: [661.7, 701.7, 231.5],
  xl: ["AR", 707, 257.5], yl: ["PDL1", 620, 192] });

// panel letters
svg.append("text").attr("x", 2).attr("y", 18.5).attr("font-size", 14).attr("font-weight", "bold").text("A (i)");
svg.append("text").attr("x", 0).attr("y", 152.5).attr("font-size", 14).attr("font-weight", "bold").text("B (i)");
svg.append("text").attr("x", 602).attr("y", 19).attr("font-size", 14).attr("font-weight", "bold").text("(ii)");
svg.append("text").attr("x", 602).attr("y", 153).attr("font-size", 14).attr("font-weight", "bold").text("(ii)");
</script>
</body>
</html>
